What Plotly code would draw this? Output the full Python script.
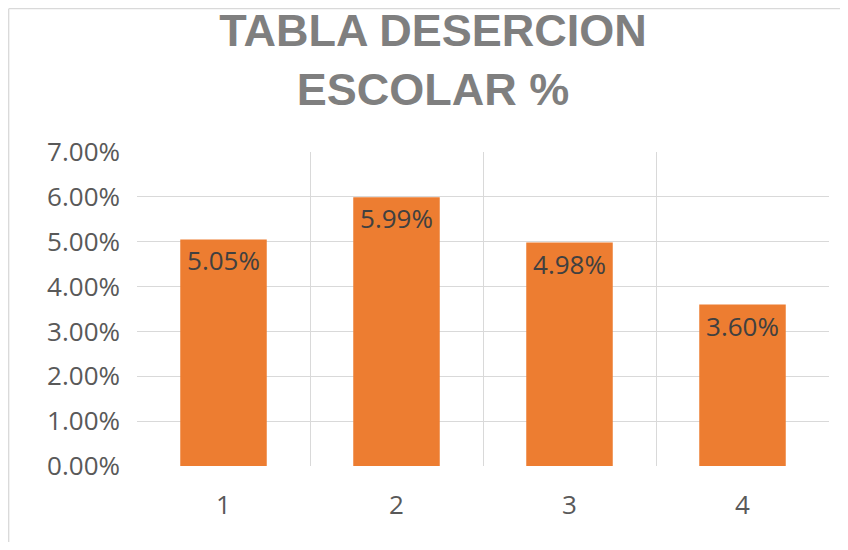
import plotly.graph_objects as go

categories = [1, 2, 3, 4]
category_labels = ["1", "2", "3", "4"]
values = [0.0505, 0.0599, 0.0498, 0.0360]
value_labels = ["5.05%", "5.99%", "4.98%", "3.60%"]
y_ticks = [0, 0.01, 0.02, 0.03, 0.04, 0.05, 0.06, 0.07]
y_tick_labels = ["0.00%", "1.00%", "2.00%", "3.00%", "4.00%", "5.00%", "6.00%", "7.00%"]
title_text = "TABLA DESERCION<br>ESCOLAR %"

W, H = 832, 534
L, R, T, B = 129, 11, 144, 76
PW, PH = W - L - R, H - T - B

fig = go.Figure()
fig.add_trace(go.Bar(
    x=categories, y=values, width=0.5,
    marker=dict(color="#ED7D31", line=dict(width=0)),
    text=value_labels, textposition="inside", insidetextanchor="end",
    textangle=0,
    textfont=dict(family="Open Sans", size=26, color="#404040"),
    cliponaxis=False,
))

border = dict(color="#D9D9D9", width=1.3)
fig.update_layout(
    width=W, height=H,
    margin=dict(l=L, r=R, t=T, b=B, pad=0),
    paper_bgcolor="white", plot_bgcolor="white",
    showlegend=False,
    title=dict(text=title_text, x=(433 - 8) / W, xanchor="center", xref="container",
               yref="container", y=1 - 38 / H, yanchor="top",
               font=dict(family="Liberation Sans", size=45, color="#7F7F7F", weight="bold")),
    uniformtext=dict(mode=False),
    shapes=[
        dict(type="line", xref="paper", yref="paper",
             x0=(0.7 - L) / PW, x1=(0.7 - L) / PW,
             y0=-(B + 40) / PH, y1=1 + (T - 0.7) / PH, line=border, layer="below"),
        dict(type="line", xref="paper", yref="paper",
             x0=(0.7 - L) / PW, x1=(W + 40 - L) / PW,
             y0=1 + (T - 0.7) / PH, y1=1 + (T - 0.7) / PH, line=border, layer="below"),
    ],
)

fig.update_xaxes(
    range=[0.5, 4.5], tickvals=categories, ticktext=category_labels,
    showgrid=False, zeroline=False, showline=False, ticks="",
    ticklabelstandoff=21,
    tickfont=dict(family="Open Sans", size=26, color="#595959"),
    minor=dict(tickvals=[1.5, 2.5, 3.5], showgrid=True, gridcolor="#D9D9D9", gridwidth=1.3, ticks=""),
)
fig.update_yaxes(
    range=[0, 0.07], tickvals=y_ticks, ticktext=y_tick_labels,
    showgrid=True, gridcolor="#D9D9D9", gridwidth=1.3,
    zeroline=False, showline=False, ticks="",
    ticklabelstandoff=16,
    tickfont=dict(family="Open Sans", size=26, color="#595959"),
)

fig.write_html("out.html")
